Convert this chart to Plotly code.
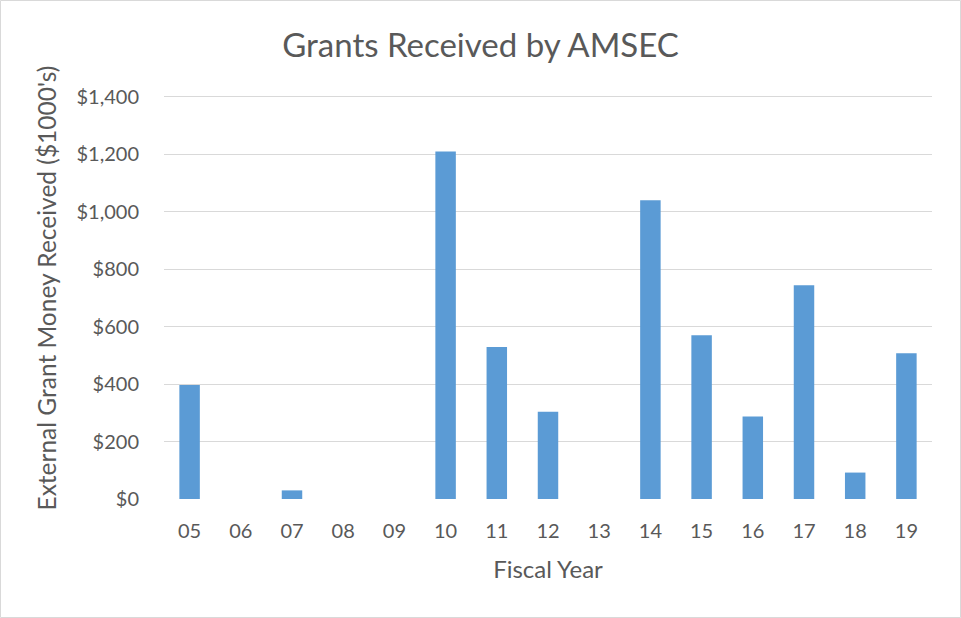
import plotly.graph_objects as go

years = ["05", "06", "07", "08", "09", "10", "11", "12", "13", "14", "15", "16", "17", "18", "19"]
grants = [397, 0, 30, 0, 0, 1210, 529, 304, 0, 1040, 570, 287, 744, 92, 507]
y_ticks = [0, 200, 400, 600, 800, 1000, 1200, 1400]
y_tick_labels = ["$0", "$200", "$400", "$600", "$800", "$1,000", "$1,200", "$1,400"]

W, H = 961, 618
ML, MR, MT, MB = 164, 29, 94, 119
PW, PH = W - ML - MR, H - MT - MB

font = "Lato, 'Open Sans', sans-serif"
grey = "#595959"

fig = go.Figure(go.Bar(
    x=years, y=grants,
    marker=dict(color="#5b9bd5", line=dict(width=0)),
))

fig.update_layout(
    width=W, height=H,
    margin=dict(l=ML, r=MR, t=MT, b=MB, pad=0),
    paper_bgcolor="white", plot_bgcolor="white",
    bargap=0.6,
    showlegend=False,
    font=dict(family=font, color=grey, size=20),
    title=dict(text="Grants Received by AMSEC", x=0.5, xanchor="center",
               y=1 - 45 / H, yanchor="middle",
               font=dict(size=33, color=grey, family=font)),
    xaxis=dict(
        type="category", showgrid=False, zeroline=False,
        showline=False, ticks="", ticklabelstandoff=18,
        tickfont=dict(size=20, color=grey),
        title=dict(text="Fiscal Year", font=dict(size=24, color=grey), standoff=20),
    ),
    yaxis=dict(
        range=[0, 1410], tickvals=y_ticks, ticktext=y_tick_labels,
        showgrid=True, gridcolor="#d9d9d9", gridwidth=1.3,
        zeroline=False, showline=False, ticks="", ticklabelstandoff=24,
        tickfont=dict(size=20, color=grey),
    ),
    annotations=[dict(
        text="External Grant Money Received ($1000's)",
        textangle=-90, showarrow=False,
        xref="paper", yref="paper",
        x=(46 - ML) / PW, y=(H - MB - 288.5) / PH,
        xanchor="center", yanchor="middle",
        font=dict(size=24.5, color=grey, family=font),
    )],
    shapes=[dict(
        type="rect", xref="paper", yref="paper",
        x0=(-ML + 0.5) / PW, x1=(PW + MR - 0.5) / PW,
        y0=(-MB + 0.5) / PH, y1=(PH + MT - 0.5) / PH,
        line=dict(color="#d9d9d9", width=1), fillcolor="rgba(0,0,0,0)", layer="below",
    )],
)

fig.write_html("out.html", config={"displayModeBar": False},
               post_script="document.body.style.margin='0';")
